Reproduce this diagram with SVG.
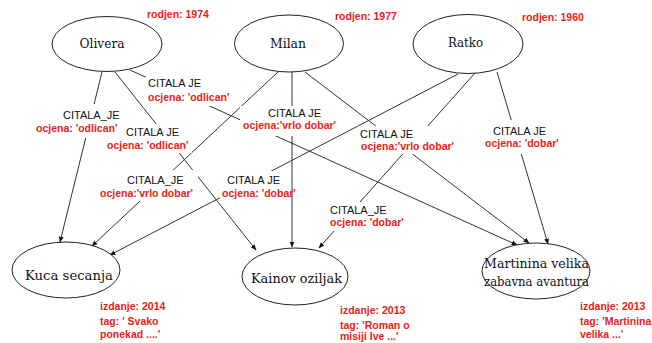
<svg xmlns="http://www.w3.org/2000/svg" width="652" height="343" viewBox="0 0 652 343">
<defs>
<marker id="arr" viewBox="0 0 10 10" refX="9" refY="5" markerWidth="6" markerHeight="6" markerUnits="userSpaceOnUse" orient="auto">
<path d="M0,1 L10,5 L0,9 z" fill="#111"/>
</marker>
<style>
.node{fill:#fff;stroke:#222;stroke-width:1}
.name{font-family:"DejaVu Serif",serif;font-size:12.5px;fill:#111;text-anchor:middle}
.attr{font-family:"Liberation Sans",Arial,sans-serif;font-size:10.5px;font-weight:bold;fill:#e42420}
.rel{font-family:"Liberation Sans",Arial,sans-serif;font-size:11px;fill:#111}
.edge{stroke:#333;stroke-width:1;fill:none;marker-end:url(#arr)}
.bg{fill:#fff}
</style>
</defs>
<rect width="652" height="343" fill="#fff"/>
<g id="connectors">
<line class="edge" x1="102" y1="72" x2="60" y2="242"/>
<line class="edge" x1="115" y1="72" x2="256" y2="250"/>
<line class="edge" x1="130" y1="70" x2="517" y2="245"/>
<line class="edge" x1="278" y1="72" x2="92" y2="246"/>
<line class="edge" x1="292" y1="72" x2="292" y2="247"/>
<line class="edge" x1="305" y1="72" x2="529" y2="243"/>
<line class="edge" x1="458" y1="74" x2="110" y2="255"/>
<line class="edge" x1="475" y1="73" x2="319" y2="248"/>
<line class="edge" x1="497" y1="72" x2="548" y2="244"/>
</g>
<g id="edge-label-backgrounds">
<rect class="bg" x="34" y="104" width="87" height="34"/>
<rect class="bg" x="146" y="76" width="87" height="30"/>
<rect class="bg" x="105" y="124" width="87" height="29"/>
<rect class="bg" x="240" y="106" width="98" height="30"/>
<rect class="bg" x="358" y="126" width="99" height="28"/>
<rect class="bg" x="483" y="120" width="80" height="34"/>
<rect class="bg" x="98" y="170" width="100" height="31"/>
<rect class="bg" x="220" y="171" width="69" height="30"/>
<rect class="bg" x="328" y="202" width="78" height="29"/>
</g>
<g id="edge-labels">
<g id="lbl-oliv-kuca"><text class="rel" x="63" y="119">CITALA_JE</text><text class="attr" x="36" y="132">ocjena: 'odlican'</text></g>
<g id="lbl-oliv-mart"><text class="rel" x="148" y="87">CITALA JE</text><text class="attr" x="148" y="101">ocjena: 'odlican'</text></g>
<g id="lbl-oliv-kain"><text class="rel" x="126" y="136">CITALA JE</text><text class="attr" x="107" y="148.5">ocjena: 'odlican'</text></g>
<g id="lbl-milan-kain"><text class="rel" x="268" y="117">CITALA JE</text><text class="attr" x="243" y="128.5">ocjena:'vrlo dobar'</text></g>
<g id="lbl-milan-mart"><text class="rel" x="360" y="137.5">CITALA JE</text><text class="attr" x="361" y="149.5">ocjena:'vrlo dobar'</text></g>
<g id="lbl-ratko-mart"><text class="rel" x="493" y="134.5">CITALA JE</text><text class="attr" x="485" y="147">ocjena: 'dobar'</text></g>
<g id="lbl-milan-kuca"><text class="rel" x="127" y="183.5">CITALA_JE</text><text class="attr" x="100" y="196.5">ocjena:'vrlo dobar'</text></g>
<g id="lbl-ratko-kuca"><text class="rel" x="227" y="183.5">CITALA JE</text><text class="attr" x="222" y="196.5">ocjena: 'dobar'</text></g>
<g id="lbl-ratko-kain"><text class="rel" x="330" y="213.5">CITALA_JE</text><text class="attr" x="330" y="226">ocjena: 'dobar'</text></g>
</g>
<g id="olivera">
<ellipse class="node" cx="107" cy="44" rx="55" ry="27.5"/>
<text class="name" x="102" y="47.5" textLength="45" lengthAdjust="spacingAndGlyphs">Olivera</text>
<text class="attr" x="147" y="17.5">rodjen: 1974</text>
</g>
<g id="milan">
<ellipse class="node" cx="289" cy="43.5" rx="54.5" ry="28.5"/>
<text class="name" x="288" y="47.5" textLength="36" lengthAdjust="spacingAndGlyphs">Milan</text>
<text class="attr" x="335" y="20">rodjen: 1977</text>
</g>
<g id="ratko">
<ellipse class="node" cx="468" cy="44" rx="55" ry="29.5"/>
<text class="name" x="465.5" y="47" textLength="35" lengthAdjust="spacingAndGlyphs">Ratko</text>
<text class="attr" x="522" y="21">rodjen: 1960</text>
</g>
<g id="kuca-secanja">
<ellipse class="node" cx="66" cy="270" rx="54" ry="28"/>
<text class="name" x="69" y="279.5" textLength="88" lengthAdjust="spacingAndGlyphs">Kuca secanja</text>
<text class="attr" x="100" y="310">izdanje: 2014</text>
<text class="attr" x="100" y="324.5">tag: ' Svako</text>
<text class="attr" x="100" y="338">ponekad ....'</text>
</g>
<g id="kainov-oziljak">
<ellipse class="node" cx="295" cy="276.5" rx="53" ry="28.5"/>
<text class="name" x="296.5" y="282.5" textLength="91" lengthAdjust="spacingAndGlyphs">Kainov oziljak</text>
<text class="attr" x="340" y="313.5">izdanje: 2013</text>
<text class="attr" x="340" y="328.5">tag: 'Roman o</text>
<text class="attr" x="340" y="340">misiji Ive ...'</text>
</g>
<g id="martinina-velika">
<ellipse class="node" cx="536" cy="271" rx="54" ry="28"/>
<text class="name" x="536.5" y="267.5" textLength="105" lengthAdjust="spacingAndGlyphs">Martinina velika</text>
<text class="name" x="536.5" y="285.5" textLength="105" lengthAdjust="spacingAndGlyphs">zabavna avantura</text>
<text class="attr" x="580" y="309.5">izdanje: 2013</text>
<text class="attr" x="580" y="324.5">tag: 'Martinina</text>
<text class="attr" x="580" y="337.5">velika ...'</text>
</g>
</svg>
